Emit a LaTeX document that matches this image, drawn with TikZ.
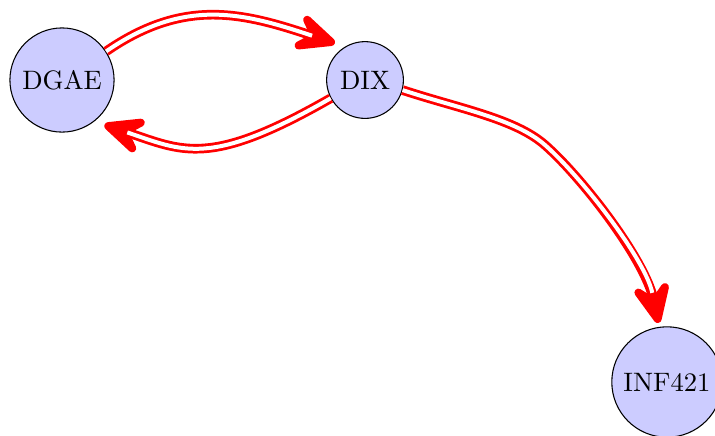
\documentclass[tikz,border=0pt]{standalone}
\usetikzlibrary{arrows.meta}
\begin{document}
\begin{tikzpicture}[x=0.375pt,y=-0.375pt,
  vertex/.style={circle,draw=black,line width=0.4pt,fill=blue!20},
  link/.style={draw=red,line width=3.6pt,
    -{Stealth[round,length=21pt,width=19pt,inset=9pt,line width=4pt]},
    postaction={draw=white,line width=1.5pt,-,shorten >=13pt}}]
\useasboundingbox (0,0) rectangle (715,435);
\node[vertex] (dgae) at (62,80) {DGAE};
\node[vertex] (dix) at (365,80) {DIX};
\node[vertex] (inf) at (667,382) {INF421};
\coordinate (bend) at (545,145);
\draw[link,shorten >=4pt] (dgae.33) .. controls (185,-3) and (244,13) .. (dix.121);
\draw[link,shorten >=4pt] (dix.208) .. controls (209,168) and (183,151) .. (dgae.-52);
\draw[link,shorten >=1.5pt] (dix.-15) .. controls (459,108.6) and (515,118.6) .. (bend)
  .. controls (582.5,178) and (645.5,260) .. (inf.98);
\end{tikzpicture}
\end{document}
